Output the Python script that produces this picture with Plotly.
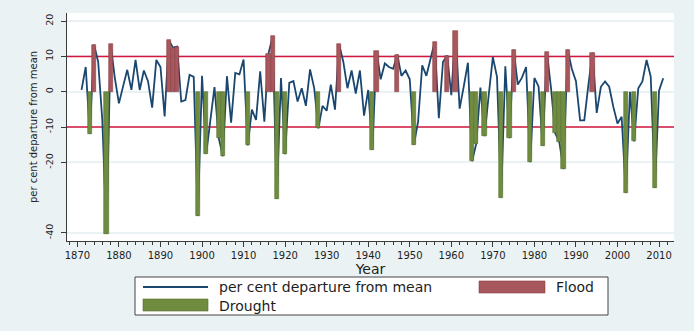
import plotly.graph_objects as go

# ---------------- data ----------------
years = list(range(1871, 2012))
departure = [
    0.5, 7.0, -12.0, 13.3, 8.5, -8.0, -40.3, 13.5, 4.0, -3.3,          # 1871-1880
    1.5, 6.2, 0.5, 9.0, 0.5, 6.0, 3.0, -4.5, 9.0, 7.0,                 # 1881-1890
    -7.0, 14.6, 12.5, 12.8, -2.8, -2.4, 4.8, 4.2, -35.2, 4.5,          # 1891-1900
    -17.6, -8.5, 1.3, -13.0, -18.3, 4.4, -8.8, 5.3, 4.9, 9.1,          # 1901-1910
    -15.2, -5.1, -8.0, 5.8, -8.5, 10.8, 15.7, -30.4, 3.9, -17.7,       # 1911-1920
    2.5, 3.0, -2.8, 1.0, -4.0, 6.3, 1.0, -10.4, -4.0, -5.4,            # 1921-1930
    2.0, -5.1, 13.4, 8.5, 1.0, 6.0, -0.5, 6.0, -6.8, 0.5,              # 1931-1940
    -16.4, 11.5, 3.5, 8.0, 7.0, 6.5, 10.5, 4.5, 6.0, 3.5,              # 1941-1950
    -15.0, -8.5, 7.5, 4.5, 9.0, 14.1, -7.5, 8.5, 10.2, -1.0,           # 1951-1960
    17.2, -4.8, 1.5, 8.2, -19.7, -14.7, 1.2, -12.6, -1.0, 9.8,         # 1961-1970
    4.2, -30.0, 7.2, -13.2, 11.9, 2.0, 4.0, 7.0, -20.0, 3.9,           # 1971-1980
    1.5, -15.4, 11.2, 1.0, -11.7, -14.3, -21.9, 11.9, 6.5, 3.0,        # 1981-1990
    -8.1, -8.1, 2.0, 11.1, -6.0, 1.4, 2.9, 1.4, -4.3, -9.0,            # 1991-2000
    -7.1, -28.6, 0.0, -14.1, 1.0, 2.9, 9.0, 4.3, -27.3, 0.3,           # 2001-2010
    3.8,                                                               # 2011
]
flood_years = [1874, 1878, 1892, 1893, 1894, 1916, 1917, 1933, 1942, 1947,
               1956, 1959, 1961, 1975, 1983, 1988, 1994]
drought_years = [1873, 1877, 1899, 1901, 1904, 1905, 1911, 1918, 1920, 1928,
                 1941, 1951, 1965, 1966, 1968, 1972, 1974, 1979, 1982, 1985,
                 1986, 1987, 2002, 2004, 2009]
xtick_vals = list(range(1870, 2011, 10))
ytick_vals = [20, 10, 0, -10, -20, -40]
threshold_lines = [10, -10]

lookup = dict(zip(years, departure))
flood_values = [lookup[y] for y in flood_years]
drought_values = [lookup[y] for y in drought_years]

# ---------------- styling ----------------
W, H = 694, 331
L, R, T, B = 67, 20, 13, 90
XR = [1867.5, 2013.6]
YR = [-42.3, 22.3]
FONT = "DejaVu Sans"
NAVY = "#1A476F"
FLOOD = "#A8585D"
DROUGHT = "#6F8C40"
BG = "#EAF2F3"
AX = "#3A3A3A"
TXT = "#1E1E1E"

fig = go.Figure()

# threshold reference lines (drawn on the base subplot, under the bars)
for v in threshold_lines:
    fig.add_trace(go.Scatter(
        x=XR, y=[v, v], mode="lines", showlegend=False, hoverinfo="skip",
        line=dict(color="#D5173F", width=1.5), cliponaxis=True,
        xaxis="x", yaxis="y"))

fig.add_trace(go.Scatter(
    x=years, y=departure, mode="lines", name="per cent departure from mean",
    line=dict(color=NAVY, width=1.8), showlegend=False,
    xaxis="x", yaxis="y"))

fig.add_trace(go.Bar(
    x=flood_years, y=flood_values, name="Flood", width=1.0,
    marker=dict(color=FLOOD, line=dict(color="#8A3C42", width=0.6)),
    showlegend=False, xaxis="x2", yaxis="y2"))

fig.add_trace(go.Bar(
    x=drought_years, y=drought_values, name="Drought", width=1.0,
    marker=dict(color=DROUGHT, line=dict(color="#56702C", width=0.6)),
    showlegend=False, xaxis="x2", yaxis="y2"))

# ---------------- custom legend (paper coordinates from pixels) ----------------
pw, ph = W - L - R, H - T - B


def px(xp):
    return (xp - L) / pw


def py(yp):
    return (H - B - yp) / ph


fig.add_shape(type="rect", xref="paper", yref="paper",
              x0=px(135), x1=px(608), y0=py(315), y1=py(277),
              fillcolor="white", line=dict(color="#444444", width=1))
fig.add_shape(type="line", xref="paper", yref="paper",
              x0=px(143), x1=px(208), y0=py(287), y1=py(287),
              line=dict(color=NAVY, width=2))
fig.add_shape(type="rect", xref="paper", yref="paper",
              x0=px(479), x1=px(545), y0=py(293), y1=py(281),
              fillcolor=FLOOD, line=dict(color="#8A3C42", width=0.6))
fig.add_shape(type="rect", xref="paper", yref="paper",
              x0=px(143), x1=px(208), y0=py(311), y1=py(299),
              fillcolor=DROUGHT, line=dict(color="#56702C", width=0.6))
for txt, xx, yy in [("per cent departure from mean", 218, 286.5),
                    ("Flood", 555, 286.5),
                    ("Drought", 218, 305.5)]:
    fig.add_annotation(text=txt, xref="paper", yref="paper", x=px(xx), y=py(yy),
                       xanchor="left", yanchor="middle", showarrow=False,
                       borderpad=0,
                       font=dict(family=FONT, size=14, color=TXT))

fig.update_layout(
    width=W, height=H,
    margin=dict(l=L, r=R, t=T, b=B, autoexpand=False),
    paper_bgcolor=BG, plot_bgcolor="white",
    barmode="overlay", bargap=0,
    font=dict(family=FONT, color=TXT),
    xaxis=dict(
        range=XR, tickvals=xtick_vals, ticks="outside", ticklen=5,
        tickcolor=AX, tickwidth=1, showline=True, linecolor=AX, linewidth=1,
        showgrid=False, zeroline=False,
        tickfont=dict(family=FONT, size=10, color=TXT),
        minor=dict(dtick=2, tick0=1870, ticks="outside", ticklen=3,
                   tickcolor=AX, showgrid=False),
        title=dict(text="Year", font=dict(family=FONT, size=14), standoff=0),
    ),
    yaxis=dict(
        range=YR, tickvals=ytick_vals, ticktext=[str(v) for v in ytick_vals],
        tickangle=-90, ticks="outside", ticklen=5, tickcolor=AX,
        showline=True, linecolor=AX, linewidth=1,
        showgrid=True, gridcolor=BG, gridwidth=1.5, zeroline=False,
        tickfont=dict(family=FONT, size=9.5, color=TXT),
        ticklabelstandoff=4,
        title=dict(text="per cent departure from mean",
                   font=dict(family=FONT, size=10), standoff=4),
    ),
    xaxis2=dict(range=XR, overlaying="x", visible=False),
    yaxis2=dict(range=YR, overlaying="y", visible=False),
)

fig.write_html(
    "out.html",
    config={"displayModeBar": False},
    post_script="document.body.style.margin='0px';"
                "document.body.style.background='" + BG + "';",
)
